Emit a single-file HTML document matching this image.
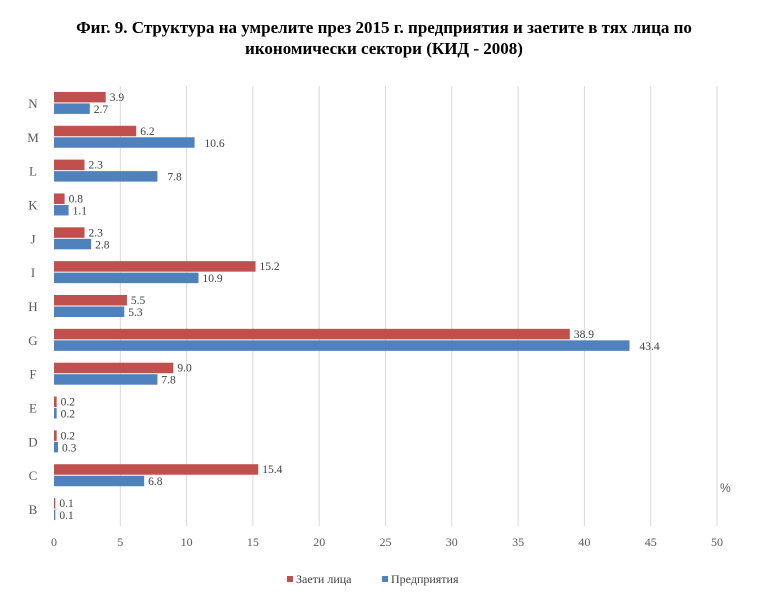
<!DOCTYPE html>
<html><head><meta charset="utf-8"><style>
body{margin:0;background:#fff;width:768px;height:605px;overflow:hidden}
svg{display:block;font-family:"Liberation Serif",serif}
</style></head><body>
<svg width="768" height="605">
<text x="384" y="33" text-anchor="middle" font-size="17" font-weight="bold" fill="#000">Фиг. 9. Структура на умрелите през 2015 г. предприятия и заетите в тях лица по</text>
<text x="384" y="54" text-anchor="middle" font-size="17" font-weight="bold" fill="#000">икономически сектори (КИД - 2008)</text>
<g id="grid"></g>
<g id="bars"></g>
<g id="labels"></g>
<text x="720" y="492" font-size="12" fill="#595959" font-family="Liberation Sans,sans-serif">%</text>
<rect x="287" y="576" width="6" height="6" fill="#C0504D"/>
<text x="296" y="583" font-size="12" fill="#404040">Заети лица</text>
<rect x="382" y="576" width="6" height="6" fill="#4F81BD"/>
<text x="391" y="583" font-size="12" fill="#404040">Предприятия</text>
</svg>
<script>
const categories=["N","M","L","K","J","I","H","G","F","E","D","C","B"];
const employed=[3.9,6.2,2.3,0.8,2.3,15.2,5.5,38.9,9.0,0.2,0.2,15.4,0.1];
const enterprises=[2.7,10.6,7.8,1.1,2.8,10.9,5.3,43.4,7.8,0.2,0.3,6.8,0.1];
const ticks=[0,5,10,15,20,25,30,35,40,45,50];
const NS="http://www.w3.org/2000/svg";
const x0=54,x1=717,yTop=86,yBottom=526;
const xs=v=>x0+(v/50)*(x1-x0);
const band=(yBottom-yTop)/categories.length;
const yc=i=>yTop+band*(i+0.5);
function mk(tag,attrs,parent){const e=document.createElementNS(NS,tag);for(const k in attrs)e.setAttribute(k,attrs[k]);document.getElementById(parent).appendChild(e);return e;}
ticks.forEach(t=>{
 if(t>0){const l=mk('line',{x1:xs(t),x2:xs(t),y1:yTop,y2:yBottom,stroke:'#d9d9d9','stroke-width':1},'grid');
 
 }
 const tx=mk('text',{x:xs(t),y:546,'text-anchor':'middle','font-size':12,fill:'#595959'},'labels');
 tx.textContent=t;
 
 
});
categories.forEach((c,i)=>{
 const y=yc(i);
 const cl=mk('text',{x:33,y:y+5,'text-anchor':'middle','font-size':13,fill:'#595959'},'labels');
 cl.textContent=c;
 
 
 const r1=mk('rect',{x:x0,y:y-11,width:Math.max(xs(employed[i])-x0,1),height:10.5,fill:'#C0504D'},'bars');
 
 
 const r2=mk('rect',{x:x0,y:y+0.5,width:Math.max(xs(enterprises[i])-x0,1),height:10.5,fill:'#4F81BD'},'bars');
 
 
 const l1=mk('text',{x:xs(employed[i])+4,y:y-2,'font-size':11.5,fill:'#404040'},'labels');
 l1.textContent=employed[i].toFixed(1);
 
 
 const l2=mk('text',{x:xs(enterprises[i])+(i===7?10:(i===1||i===2?10:4)),y:y+10,'font-size':11.5,fill:'#404040'},'labels');
 l2.textContent=enterprises[i].toFixed(1);
 
 
});
</script>
</body></html>
